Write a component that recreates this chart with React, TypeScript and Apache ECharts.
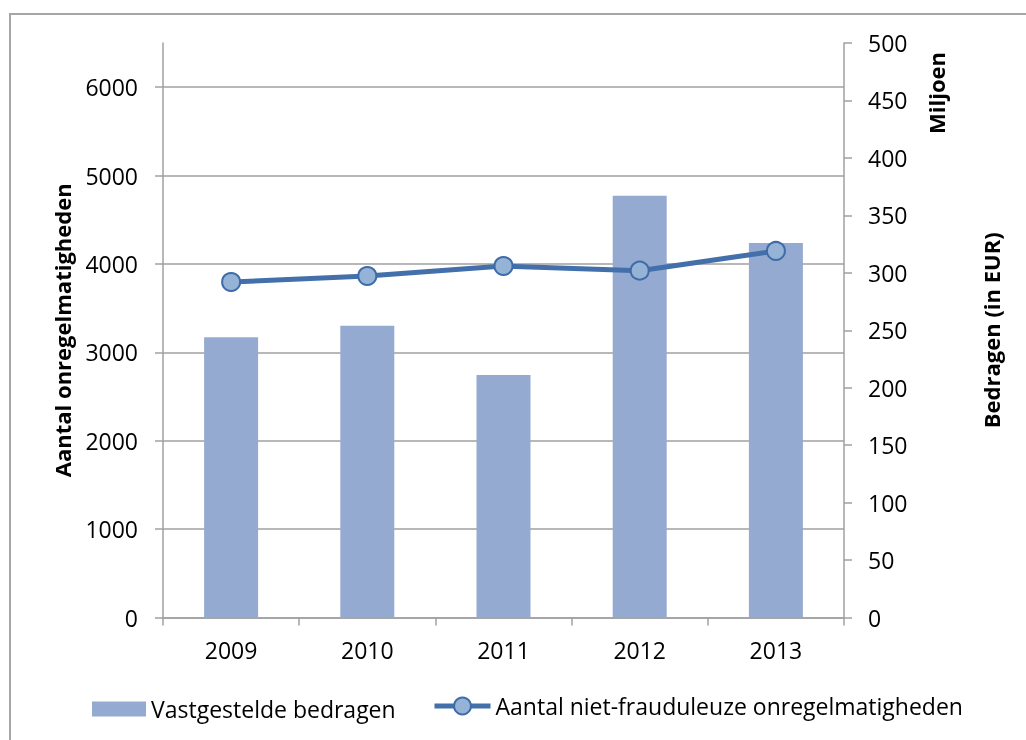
import React, { useEffect, useRef } from 'react';
import * as echarts from 'echarts';

const years = ['2009', '2010', '2011', '2012', '2013'];
// Vastgestelde bedragen (miljoen EUR) - right axis
const bedragen = [244, 254, 211, 367, 326];
// Aantal niet-frauduleuze onregelmatigheden - left axis
const aantal = [3796, 3864, 3977, 3924, 4147];
const leftTicks = [0, 1000, 2000, 3000, 4000, 5000, 6000];
const seriesNames = ['Vastgestelde bedragen', 'Aantal niet-frauduleuze onregelmatigheden'];
const leftAxisName = 'Aantal onregelmatigheden';
const rightAxisName = 'Bedragen (in EUR)';
const unitLabel = 'Miljoen';

const FONT = 'Open Sans';
const AXIS_COLOR = '#a0a0a0';
const FS = 23;

export default function App() {
  const ref = useRef<HTMLDivElement>(null);
  useEffect(() => {
    const chart = echarts.init(ref.current!, null, { renderer: 'svg' });
    const legendText = { fontFamily: FONT, fontSize: FS, color: '#000' };
    chart.setOption({
      animation: false,
      textStyle: { fontFamily: FONT },
      grid: { left: 163, right: 182, top: 43, bottom: 122.5, containLabel: false },
      graphic: [
        {
          type: 'rect',
          shape: { x: 10, y: 14, width: 1200, height: 900 },
          style: { fill: 'none', stroke: '#a6a6a6', lineWidth: 2 },
          silent: true,
        },
        {
          type: 'text',
          x: 936,
          y: 93,
          rotation: Math.PI / 2,
          style: {
            text: unitLabel,
            fontFamily: FONT,
            fontSize: 22,
            fontWeight: 'bold',
            fill: '#000',
            align: 'center',
            verticalAlign: 'middle',
          },
        },
      ],
      legend: [
        {
          left: 87,
          top: 692.5,
          itemWidth: 54,
          itemHeight: 15,
          itemGap: 5,
          textStyle: legendText,
          data: [{ name: seriesNames[0], icon: 'rect' }],
        },
        {
          left: 427,
          top: 689.5,
          itemWidth: 56,
          itemHeight: 21,
          itemGap: 5,
          textStyle: legendText,
          lineStyle: { width: 5 },
          data: [{ name: seriesNames[1] }],
        },
      ],
      xAxis: {
        type: 'category',
        data: years,
        axisLine: { lineStyle: { color: AXIS_COLOR, width: 1.5 } },
        axisTick: { show: true, length: 8, lineStyle: { color: AXIS_COLOR, width: 1.5 } },
        axisLabel: { color: '#000', fontSize: FS, fontFamily: FONT, margin: 21 },
        splitLine: { show: false },
      },
      yAxis: [
        {
          type: 'value',
          min: 0,
          max: 6500,
          interval: 1000,
          position: 'left',
          name: leftAxisName,
          nameLocation: 'middle',
          nameRotate: 90,
          nameGap: 90,
          nameTextStyle: { fontFamily: FONT, fontSize: 22, fontWeight: 'bold', color: '#000' },
          axisLine: { show: true, lineStyle: { color: AXIS_COLOR, width: 1.5 } },
          axisTick: { show: true, length: 8, customValues: leftTicks, lineStyle: { color: AXIS_COLOR, width: 1.5 } },
          axisLabel: {
            color: '#000',
            fontSize: FS,
            fontFamily: FONT,
            margin: 25,
            customValues: leftTicks,
            formatter: (v: number) => String(v),
          },
          splitLine: { show: true, lineStyle: { color: AXIS_COLOR, width: 1.5 } },
        },
        {
          type: 'value',
          min: 0,
          max: 500,
          interval: 50,
          position: 'right',
          name: rightAxisName,
          nameLocation: 'middle',
          nameRotate: 90,
          nameGap: 136,
          nameTextStyle: { fontFamily: FONT, fontSize: 22, fontWeight: 'bold', color: '#000' },
          axisLine: { show: true, lineStyle: { color: AXIS_COLOR, width: 1.5 } },
          axisTick: { show: true, length: 8, lineStyle: { color: AXIS_COLOR, width: 1.5 } },
          axisLabel: { color: '#000', fontSize: FS, fontFamily: FONT, margin: 24 },
          splitLine: { show: false },
        },
      ],
      series: [
        {
          name: seriesNames[0],
          type: 'bar',
          yAxisIndex: 1,
          data: bedragen,
          barWidth: 54,
          itemStyle: { color: '#95aad0' },
          z: 1,
        },
        {
          name: seriesNames[1],
          type: 'line',
          yAxisIndex: 0,
          data: aantal,
          symbol: 'circle',
          symbolSize: 18,
          lineStyle: { color: '#4370aa', width: 5 },
          itemStyle: { color: '#95b3d7', borderColor: '#3f6ca8', borderWidth: 2 },
          z: 3,
        },
      ],
    });
    return () => chart.dispose();
  }, []);
  return <div ref={ref} style={{ position: 'fixed', left: 0, top: 0, width: 1026, height: 740 }} />;
}
